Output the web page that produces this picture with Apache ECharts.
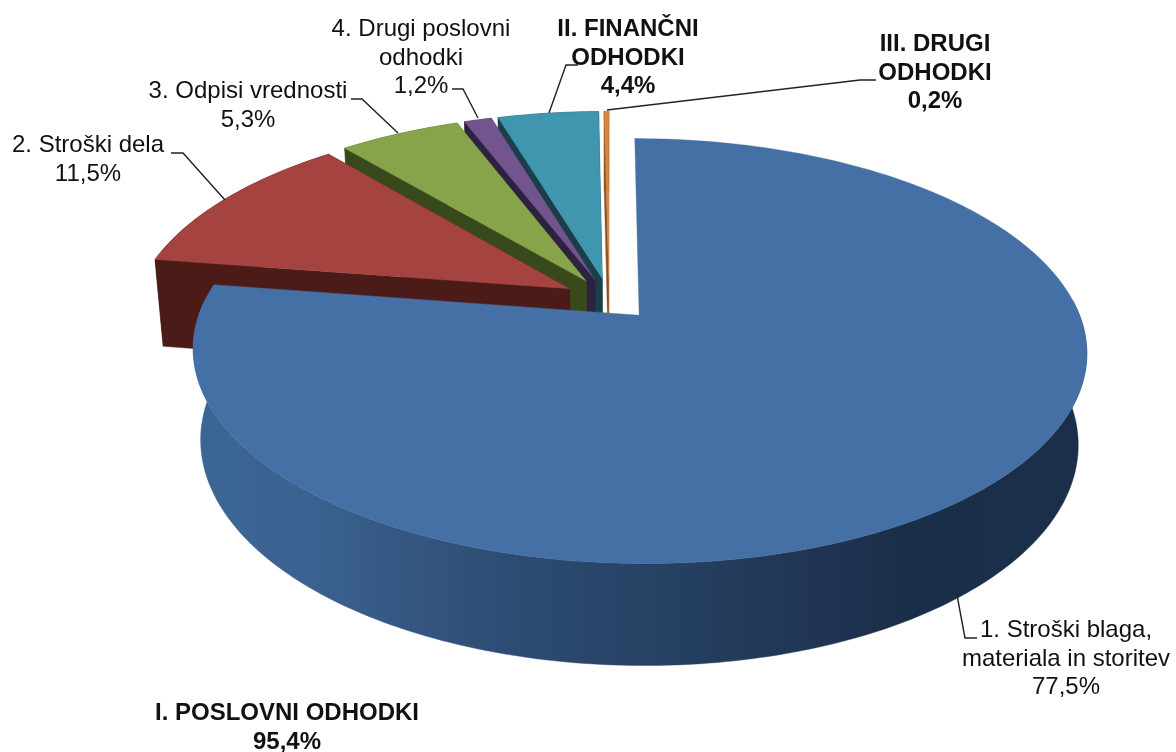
<!DOCTYPE html>
<html><head><meta charset="utf-8">
<style>html,body{margin:0;padding:0;background:#fff}#c{width:1176px;height:752px}</style>
<script src="https://cdn.jsdelivr.net/npm/echarts@6/dist/echarts.min.js"></script>
</head><body><div id="c"></div>
<script>
// Data (clockwise from 12 o'clock)
const sliceNames = ['1. Stroški blaga, materiala in storitev','2. Stroški dela','3. Odpisi vrednosti','4. Drugi poslovni odhodki','II. FINANČNI ODHODKI','III. DRUGI ODHODKI'];
const sliceValues = [77.5, 11.5, 5.3, 1.2, 4.4, 0.2];
const topColors = ['#4470A6','#A44340','#87A44B','#72558F','#3F96AE','#DB843D'];
const sideColors = ['#1B2F49','#4A1B17','#384A1C','#2E2240','#1B3F4A','#8A5020'];
const wallOrder = [5,4,3,2,1,0];
const topOrder = [1,2,3,4,5,0];
const labelTexts = ['1. Stroški blaga,\nmateriala in storitev\n77,5%','2. Stroški dela\n11,5%','3. Odpisi vrednosti\n5,3%','4. Drugi poslovni\nodhodki\n1,2%','II. FINANČNI\nODHODKI\n4,4%','III. DRUGI\nODHODKI\n0,2%','I. POSLOVNI ODHODKI\n95,4%'];
const labelBold = [false,false,false,false,true,true,true];

// Projection of the tilted disc
const view = {cx:609, cy:299, R:434.6, A:201, k:0.1664, explode:0.105};
const labelPlace = [[1066,659],[88,160],[248,106],[421,58],[628,58],[935,73],[287,728]];
const leaderPaths = [
  [[977,638],[965,638],[957,595]],
  [[171,153],[183,153],[225,200]],
  [[351,99],[362,99],[398,133]],
  [[452,89],[463,89],[478,118]],
  [[578,65],[566,65],[549,113]],
  [[876,80],[860,80],[607,110]]
];
const total = sliceValues.reduce((a,b)=>a+b,0);
const angles = []; let acc = 0;
sliceValues.forEach(v=>{ const s=acc/total*2*Math.PI; acc+=v; angles.push([s,acc/total*2*Math.PI]); });

function project(u,v){ const d=1-view.k*v; return [view.cx+view.R*u/d, view.cy+view.A*v/d]; }
function drop(p){ return [view.cx+(p[0]-view.cx)*0.982, p[1]+87+0.05*(p[1]-263)]; }

function renderItem(params){
  const count = wallOrder.length;
  const isTop = params.dataIndex >= count;
  const i = isTop ? topOrder[params.dataIndex-count] : wallOrder[params.dataIndex];
  const a0 = angles[i][0], a1 = angles[i][1], mid=(a0+a1)/2;
  const ox = view.explode*Math.sin(mid), oy = -view.explode*Math.cos(mid);
  const apex = project(ox,oy);
  const arc = []; const n = Math.max(4,Math.ceil((a1-a0)*60));
  for(let j=0;j<=n;j++){ const a=a0+(a1-a0)*j/n; arc.push(project(ox+Math.sin(a),oy-Math.cos(a))); }
  const poly = (pts,fill)=>({type:'polygon',shape:{points:pts},style:{fill:fill,stroke:fill,lineWidth:0.4}});
  if(isTop) return poly([apex].concat(arc),topColors[i]);
  if(i===0){
    // largest slice: only its front-facing rim is visible
    const front = arc.filter(p=>p[1]>view.cy);
    const grad = new echarts.graphic.LinearGradient(195,0,1085,0,[
      {offset:0,color:'#3B6694'},{offset:0.12,color:'#3B6391'},{offset:0.35,color:'#2E4C73'},
      {offset:0.6,color:'#233C5C'},{offset:0.8,color:'#1B2E49'},{offset:1,color:'#1B2F4A'}],true);
    return poly(front.concat(front.map(drop).reverse()),grad);
  }
  const arcB = arc.map(drop), apexB = drop(apex), side = sideColors[i];
  return {type:'group',children:[
    poly([apex,arc[n],arcB[n],apexB],side),
    poly(arc.concat(arcB.slice().reverse()),side),
    poly([apex,arc[0],arcB[0],apexB],side)
  ]};
}

const chart = echarts.init(document.getElementById('c'),null,{renderer:'canvas'});
const graphics = [];
leaderPaths.forEach(p=>graphics.push({type:'polyline',shape:{points:p},silent:true,z:20,style:{fill:null,stroke:'#222',lineWidth:1.4}}));
labelTexts.forEach((t,i)=>graphics.push({type:'text',x:labelPlace[i][0],y:labelPlace[i][1],z:21,silent:true,
  style:{text:t,textAlign:'center',textVerticalAlign:'middle',lineHeight:28.5,fill:'#111',
  font:(labelBold[i]?'bold ':'')+'24px "Liberation Sans", Arial, sans-serif'}}));
const passes = wallOrder.concat(topOrder);
chart.setOption({
  animation:false,backgroundColor:'#fff',
  graphic:graphics,
  series:[{type:'custom',coordinateSystem:'none',silent:true,clip:false,renderItem:renderItem,
    data:passes.map(i=>({name:sliceNames[i],value:[sliceValues[i]]}))}]
});
</script></body></html>
